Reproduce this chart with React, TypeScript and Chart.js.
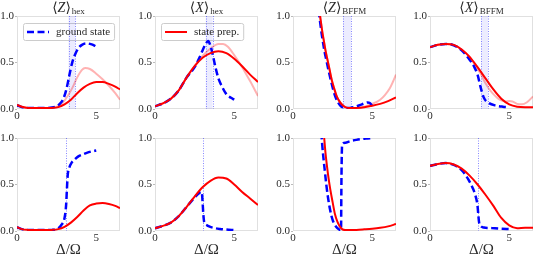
import React, { useEffect, useRef } from 'react';
import { Chart, registerables } from 'chart.js';

Chart.register(...registerables);

// ---------- axes / labels ----------
const xTickValues = [0, 5];
const yTickValues = [0, 0.5, 1];
const xMin = 0;
const xMax = 6.5;
const yMin = 0;
const yMax = 1;
const panelTitles: [string, string][] = [
  ['Z', 'hex'],
  ['X', 'hex'],
  ['Z', 'BFFM'],
  ['X', 'BFFM'],
];
const xAxisLabel = 'Δ/Ω';
const groundLabel = 'ground state';
const prepLabel = 'state prep.';
const altLabel = 'state prep. (faint)';

// ---------- top row: <Z>_hex ----------
const zHexTopGsX = [0, 0.3, 0.7, 1.2, 1.7, 2.2, 2.5, 2.7, 2.9, 3.1, 3.3, 3.5, 3.7, 3.9, 4.1, 4.35, 4.6, 4.8, 5.0];
const zHexTopGsY = [0.04, 0.02, 0.01, 0.01, 0.01, 0.015, 0.03, 0.055, 0.1, 0.2, 0.36, 0.51, 0.6, 0.66, 0.69, 0.705, 0.7, 0.69, 0.67];
const zHexTopSpX = [0, 0.3, 0.7, 1.2, 1.7, 2.2, 2.6, 3.0, 3.4, 3.8, 4.2, 4.6, 5.0, 5.4, 5.8, 6.2, 6.5];
const zHexTopSpY = [0.045, 0.025, 0.012, 0.01, 0.01, 0.012, 0.02, 0.05, 0.1, 0.17, 0.23, 0.27, 0.29, 0.29, 0.27, 0.24, 0.21];
const zHexTopAltX = [0, 0.3, 0.7, 1.2, 1.7, 2.2, 2.6, 2.9, 3.2, 3.5, 3.8, 4.1, 4.3, 4.6, 5.0, 5.4, 5.8, 6.2, 6.5];
const zHexTopAltY = [0.045, 0.025, 0.012, 0.01, 0.01, 0.012, 0.03, 0.07, 0.14, 0.23, 0.34, 0.42, 0.44, 0.43, 0.38, 0.32, 0.25, 0.17, 0.1];

// ---------- top row: <X>_hex ----------
const xHexTopSpX = [0, 0.5, 1, 1.5, 2, 2.5, 3, 3.5, 4, 4.5, 5, 5.5, 6, 6.5];
const xHexTopSpY = [0.03, 0.06, 0.11, 0.2, 0.34, 0.46, 0.55, 0.6, 0.62, 0.6, 0.54, 0.46, 0.37, 0.29];
const xHexTopGsX = [0, 0.5, 1, 1.5, 2, 2.5, 2.8, 3.0, 3.2, 3.35, 3.5, 3.65, 3.8, 4.0, 4.2, 4.5, 4.8, 5.0];
const xHexTopGsY = [0.03, 0.06, 0.11, 0.2, 0.34, 0.45, 0.55, 0.63, 0.7, 0.73, 0.68, 0.58, 0.46, 0.33, 0.25, 0.16, 0.12, 0.1];
const xHexTopAltX = [0, 0.5, 1, 1.5, 2, 2.5, 3, 3.5, 4, 4.3, 4.6, 5, 5.5, 6, 6.5];
const xHexTopAltY = [0.03, 0.06, 0.11, 0.2, 0.34, 0.46, 0.57, 0.65, 0.7, 0.7, 0.67, 0.58, 0.45, 0.3, 0.14];

// ---------- top row: <Z>_BFFM ----------
const zBffmTopSpX = [1.66, 1.75, 1.85, 1.95, 2.05, 2.15, 2.3, 2.45, 2.6, 2.75, 2.9, 3.1, 3.3, 3.6, 4.0, 4.5, 5.0, 5.5, 6.0, 6.5];
const zBffmTopSpY = [1.06, 0.95, 0.83, 0.73, 0.63, 0.55, 0.43, 0.31, 0.22, 0.14, 0.09, 0.045, 0.02, 0.01, 0.012, 0.02, 0.035, 0.055, 0.085, 0.125];
const zBffmTopGsX = [1.62, 1.7, 1.8, 1.9, 2.0, 2.1, 2.25, 2.4, 2.55, 2.7, 2.85, 3.0, 3.2, 3.5, 3.8, 4.2, 4.5, 4.7, 4.85, 5.0];
const zBffmTopGsY = [1.06, 0.95, 0.82, 0.71, 0.61, 0.53, 0.41, 0.3, 0.2, 0.12, 0.07, 0.035, 0.015, 0.01, 0.02, 0.04, 0.06, 0.07, 0.065, 0.03];
const zBffmTopAltX = [1.66, 1.75, 1.85, 1.95, 2.05, 2.15, 2.3, 2.45, 2.6, 2.75, 2.9, 3.1, 3.3, 3.6, 4.0, 4.5, 5.0, 5.5, 5.8, 6.1, 6.3, 6.5];
const zBffmTopAltY = [1.06, 0.95, 0.83, 0.73, 0.63, 0.55, 0.43, 0.31, 0.22, 0.14, 0.09, 0.045, 0.02, 0.01, 0.012, 0.025, 0.055, 0.1, 0.15, 0.22, 0.29, 0.37];

// ---------- top row: <X>_BFFM ----------
const xBffmTopSpX = [0, 0.5, 1, 1.5, 2, 2.5, 3, 3.5, 4, 4.5, 5, 5.5, 6, 6.5];
const xBffmTopSpY = [0.665, 0.69, 0.7, 0.69, 0.64, 0.56, 0.45, 0.33, 0.21, 0.11, 0.05, 0.025, 0.02, 0.02];
const xBffmTopGsX = [0, 0.5, 1, 1.5, 2, 2.5, 2.8, 3.0, 3.2, 3.4, 3.7, 4.2, 4.6, 5.0];
const xBffmTopGsY = [0.665, 0.69, 0.7, 0.685, 0.63, 0.53, 0.45, 0.37, 0.23, 0.12, 0.065, 0.035, 0.025, 0.02];
const xBffmTopAltX = [0, 0.5, 1, 1.5, 2, 2.5, 3, 3.2, 3.4, 3.6, 3.8, 4, 4.4, 4.8, 5, 5.2, 5.5, 5.8, 6.1, 6.5];
const xBffmTopAltY = [0.665, 0.69, 0.7, 0.69, 0.64, 0.56, 0.43, 0.38, 0.31, 0.25, 0.2, 0.16, 0.1, 0.08, 0.085, 0.08, 0.055, 0.05, 0.07, 0.135];

// ---------- bottom row: <Z>_hex ----------
const zHexBotGsX = [0, 0.3, 0.7, 1.2, 1.7, 2.2, 2.5, 2.8, 3.0, 3.1, 3.15, 3.2, 3.3, 3.45, 3.65, 3.85, 4.1, 4.4, 4.7, 5.0];
const zHexBotGsY = [0.04, 0.02, 0.01, 0.01, 0.01, 0.012, 0.02, 0.065, 0.14, 0.28, 0.45, 0.6, 0.68, 0.735, 0.77, 0.8, 0.82, 0.84, 0.855, 0.865];
const zHexBotSpX = [0, 0.3, 0.7, 1.2, 1.7, 2.2, 2.6, 3.0, 3.4, 3.8, 4.2, 4.6, 5.0, 5.4, 5.8, 6.2, 6.5];
const zHexBotSpY = [0.04, 0.02, 0.012, 0.01, 0.01, 0.012, 0.02, 0.045, 0.09, 0.15, 0.22, 0.275, 0.295, 0.3, 0.29, 0.27, 0.245];

// ---------- bottom row: <X>_hex ----------
const xHexBotSpX = [0, 0.5, 1, 1.5, 2, 2.5, 3, 3.5, 4, 4.5, 5, 5.5, 6, 6.5];
const xHexBotSpY = [0.03, 0.055, 0.09, 0.16, 0.26, 0.37, 0.47, 0.54, 0.575, 0.565, 0.5, 0.42, 0.35, 0.28];
const xHexBotGsX = [0, 0.5, 1, 1.5, 2, 2.5, 2.8, 2.95, 3.0, 3.05, 3.1, 3.25, 3.45, 3.8, 4.1, 4.5, 5.0];
const xHexBotGsY = [0.03, 0.055, 0.09, 0.16, 0.26, 0.36, 0.41, 0.42, 0.32, 0.18, 0.1, 0.065, 0.047, 0.03, 0.022, 0.015, 0.01];

// ---------- bottom row: <Z>_BFFM ----------
const zBffmBotSpX = [1.94, 2.05, 2.15, 2.25, 2.35, 2.5, 2.65, 2.8, 2.95, 3.1, 3.3, 3.6, 4.0, 4.5, 5.0, 5.5, 6.0, 6.5];
const zBffmBotSpY = [1.06, 0.84, 0.69, 0.56, 0.45, 0.31, 0.18, 0.1, 0.05, 0.02, 0.01, 0.01, 0.012, 0.018, 0.025, 0.035, 0.05, 0.075];
const zBffmBotGsX = [1.78, 1.9, 2.0, 2.1, 2.2, 2.35, 2.5, 2.65, 2.8, 2.95, 3.03, 3.06, 3.1, 3.3, 3.6, 4.0, 4.4, 4.7, 5.0];
const zBffmBotGsY = [1.06, 0.82, 0.66, 0.5, 0.37, 0.22, 0.12, 0.065, 0.03, 0.012, 0.01, 0.6, 0.93, 0.95, 0.965, 0.98, 0.99, 0.995, 1.0];

// ---------- bottom row: <X>_BFFM ----------
const xBffmBotSpX = [0, 0.5, 1, 1.5, 2, 2.5, 3, 3.5, 4, 4.5, 5, 5.5, 6, 6.5];
const xBffmBotSpY = [0.7, 0.72, 0.73, 0.715, 0.67, 0.595, 0.5, 0.39, 0.27, 0.14, 0.06, 0.03, 0.035, 0.035];
const xBffmBotGsX = [0, 0.5, 1, 1.5, 2, 2.4, 2.7, 2.85, 3.0, 3.05, 3.1, 3.2, 3.4, 3.7, 4.1, 4.5, 5.0];
const xBffmBotGsY = [0.7, 0.72, 0.73, 0.71, 0.655, 0.56, 0.46, 0.39, 0.27, 0.17, 0.09, 0.055, 0.037, 0.032, 0.03, 0.025, 0.02];

// ---------- markers ----------
const crossoverBands: [number, number][] = [
  [3.25, 3.67],
  [3.2, 3.63],
  [3.16, 3.67],
  [3.23, 3.66],
];
const bottomMarkers: (number | null)[] = [3.08, 3.05, null, 3.02];

// ---------- styling / layout (not data) ----------
const SERIF = "'Liberation Serif', 'DejaVu Serif', 'Times New Roman', serif";
const TEXT = '#2a2a2a';
const FRAME = '#e0e0e0';
const BAND_FILL = 'rgba(70,70,255,0.1)';
const BAND_EDGE = 'rgba(40,40,255,0.55)';
const PLOT_W = 103;
const PLOT_H = 93;
const Y_AXIS_W = 17;
const TOP_PAD = 16;
const RIGHT_PAD = 3;
const COL_LEFT = [17, 155, 293, 430];
const TOP_XAXIS_H = 13;
const BOT_XAXIS_H = 30;

type Kind = 'gs' | 'sp' | 'alt';
const STYLE: Record<Kind, any> = {
  gs: { borderColor: '#0000ff', borderWidth: 2.5, borderDash: [7, 3.5] },
  sp: { borderColor: '#ff0000', borderWidth: 2 },
  alt: { borderColor: 'rgba(255,0,0,0.3)', borderWidth: 2 },
};
const LABEL: Record<Kind, string> = { gs: groundLabel, sp: prepLabel, alt: altLabel };

type Series = { kind: Kind; xs: number[]; ys: number[] };
type Panel = {
  row: number;
  col: number;
  series: Series[];
  band?: [number, number];
  marker?: number | null;
  legend?: Kind;
};

const panels: Panel[] = [
  {
    row: 0, col: 0, band: crossoverBands[0], legend: 'gs',
    series: [
      { kind: 'sp', xs: zHexTopSpX, ys: zHexTopSpY },
      { kind: 'gs', xs: zHexTopGsX, ys: zHexTopGsY },
      { kind: 'alt', xs: zHexTopAltX, ys: zHexTopAltY },
    ],
  },
  {
    row: 0, col: 1, band: crossoverBands[1], legend: 'sp',
    series: [
      { kind: 'sp', xs: xHexTopSpX, ys: xHexTopSpY },
      { kind: 'gs', xs: xHexTopGsX, ys: xHexTopGsY },
      { kind: 'alt', xs: xHexTopAltX, ys: xHexTopAltY },
    ],
  },
  {
    row: 0, col: 2, band: crossoverBands[2],
    series: [
      { kind: 'sp', xs: zBffmTopSpX, ys: zBffmTopSpY },
      { kind: 'gs', xs: zBffmTopGsX, ys: zBffmTopGsY },
      { kind: 'alt', xs: zBffmTopAltX, ys: zBffmTopAltY },
    ],
  },
  {
    row: 0, col: 3, band: crossoverBands[3],
    series: [
      { kind: 'sp', xs: xBffmTopSpX, ys: xBffmTopSpY },
      { kind: 'gs', xs: xBffmTopGsX, ys: xBffmTopGsY },
      { kind: 'alt', xs: xBffmTopAltX, ys: xBffmTopAltY },
    ],
  },
  {
    row: 1, col: 0, marker: bottomMarkers[0],
    series: [
      { kind: 'sp', xs: zHexBotSpX, ys: zHexBotSpY },
      { kind: 'gs', xs: zHexBotGsX, ys: zHexBotGsY },
    ],
  },
  {
    row: 1, col: 1, marker: bottomMarkers[1],
    series: [
      { kind: 'sp', xs: xHexBotSpX, ys: xHexBotSpY },
      { kind: 'gs', xs: xHexBotGsX, ys: xHexBotGsY },
    ],
  },
  {
    row: 1, col: 2, marker: bottomMarkers[2],
    series: [
      { kind: 'sp', xs: zBffmBotSpX, ys: zBffmBotSpY },
      { kind: 'gs', xs: zBffmBotGsX, ys: zBffmBotGsY },
    ],
  },
  {
    row: 1, col: 3, marker: bottomMarkers[3],
    series: [
      { kind: 'sp', xs: xBffmBotSpX, ys: xBffmBotSpY },
      { kind: 'gs', xs: xBffmBotGsX, ys: xBffmBotGsY },
    ],
  },
];

function dottedLine(ctx: CanvasRenderingContext2D, px: number, top: number, bottom: number) {
  ctx.save();
  ctx.strokeStyle = BAND_EDGE;
  ctx.lineWidth = 1;
  ctx.setLineDash([1, 1.5]);
  ctx.beginPath();
  const x = Math.round(px) + 0.5;
  ctx.moveTo(x, top);
  ctx.lineTo(x, bottom);
  ctx.stroke();
  ctx.restore();
}

function makeDecor(p: Panel) {
  return {
    id: 'decor',
    beforeDatasetsDraw(chart: any) {
      const { ctx, chartArea: ca, scales } = chart;
      const xs = scales.x;
      ctx.save();
      ctx.strokeStyle = FRAME;
      ctx.lineWidth = 1;
      ctx.strokeRect(ca.left + 0.5, ca.top + 0.5, ca.right - ca.left - 1, ca.bottom - ca.top - 1);
      ctx.restore();
      if (p.legend) {
        const label = LABEL[p.legend];
        ctx.save();
        ctx.font = `11px ${SERIF}`;
        const tw = ctx.measureText(label).width;
        const bx = ca.left + 6;
        const by = ca.top + 7;
        const bh = 17;
        const bw = 4 + 22 + 7 + tw + 4;
        ctx.beginPath();
        if ((ctx as any).roundRect) (ctx as any).roundRect(bx + 0.5, by + 0.5, bw, bh, 2);
        else ctx.rect(bx + 0.5, by + 0.5, bw, bh);
        ctx.fillStyle = '#ffffff';
        ctx.fill();
        ctx.strokeStyle = '#cccccc';
        ctx.lineWidth = 1;
        ctx.stroke();
        ctx.restore();
      }
      if (p.band) {
        const a = xs.getPixelForValue(p.band[0]);
        const b = xs.getPixelForValue(p.band[1]);
        ctx.save();
        ctx.fillStyle = BAND_FILL;
        ctx.fillRect(a, ca.top, b - a, ca.bottom - ca.top);
        ctx.restore();
        dottedLine(ctx, a, ca.top, ca.bottom);
        dottedLine(ctx, b, ca.top, ca.bottom);
      }
      if (p.marker != null) {
        dottedLine(ctx, xs.getPixelForValue(p.marker), ca.top, ca.bottom);
      }
    },
    afterDatasetsDraw(chart: any) {
      if (!p.legend) return;
      const { ctx, chartArea: ca } = chart;
      const label = LABEL[p.legend];
      const st = STYLE[p.legend];
      ctx.save();
      ctx.font = `11px ${SERIF}`;
      const bx = ca.left + 6;
      const by = ca.top + 7;
      const bh = 17;
      const ly = by + bh / 2 + 0.5;
      ctx.beginPath();
      ctx.strokeStyle = st.borderColor;
      ctx.lineWidth = st.borderWidth;
      ctx.setLineDash(st.borderDash || []);
      ctx.moveTo(bx + 4, ly);
      ctx.lineTo(bx + 26, ly);
      ctx.stroke();
      ctx.setLineDash([]);
      ctx.fillStyle = TEXT;
      ctx.textBaseline = 'middle';
      ctx.textAlign = 'left';
      ctx.fillText(label, bx + 33, ly + 0.5);
      ctx.restore();
    },
    afterDraw(chart: any) {
      if (p.row !== 0) return;
      const { ctx, chartArea: ca } = chart;
      const [main, sub] = panelTitles[p.col];
      const fMain = `14px ${SERIF}`;
      const fIt = `italic 14px ${SERIF}`;
      const fSub = `9px ${SERIF}`;
      ctx.save();
      ctx.fillStyle = TEXT;
      ctx.textBaseline = 'alphabetic';
      ctx.textAlign = 'left';
      ctx.font = fMain;
      const wl = ctx.measureText('⟨').width;
      const wr = ctx.measureText('⟩').width;
      ctx.font = fIt;
      const wz = ctx.measureText(main).width;
      ctx.font = fSub;
      const ws = ctx.measureText(sub).width;
      const total = wl + wz + wr + 1 + ws;
      let x = (ca.left + ca.right) / 2 - total / 2;
      const base = 12;
      ctx.font = fMain;
      ctx.fillText('⟨', x, base);
      x += wl;
      ctx.font = fIt;
      ctx.fillText(main, x, base);
      x += wz;
      ctx.font = fMain;
      ctx.fillText('⟩', x, base);
      x += wr + 1;
      ctx.font = fSub;
      ctx.fillText(sub, x, base + 2);
      ctx.restore();
    },
  };
}

function buildConfig(p: Panel): any {
  const bottom = p.row === 1;
  return {
    type: 'line',
    data: {
      datasets: p.series.map((s) => ({
        label: LABEL[s.kind],
        data: s.xs.map((x, i) => ({ x, y: s.ys[i] })),
        ...STYLE[s.kind],
        pointRadius: 0,
        pointHoverRadius: 0,
        fill: false,
        cubicInterpolationMode: 'monotone',
      })),
    },
    options: {
      animation: false,
      responsive: false,
      maintainAspectRatio: false,
      events: [],
      layout: { padding: { top: TOP_PAD, right: RIGHT_PAD, left: 0, bottom: 0 } },
      plugins: {
        legend: { display: false },
        tooltip: { enabled: false },
        title: { display: false },
      },
      scales: {
        x: {
          type: 'linear',
          min: xMin,
          max: xMax,
          afterBuildTicks: (s: any) => {
            s.ticks = xTickValues.map((v) => ({ value: v }));
          },
          afterFit: (s: any) => {
            s.height = bottom ? BOT_XAXIS_H : TOP_XAXIS_H;
          },
          ticks: {
            color: TEXT,
            font: { family: SERIF, size: 11 },
            padding: 1,
            maxRotation: 0,
            autoSkip: false,
            callback: (v: any) => String(v),
          },
          grid: { display: false, drawTicks: false },
          border: { display: false },
          title: bottom
            ? {
                display: true,
                text: xAxisLabel,
                color: TEXT,
                font: { family: SERIF, size: 15 },
                padding: { top: 0, bottom: 2 },
              }
            : { display: false },
        },
        y: {
          type: 'linear',
          min: yMin,
          max: yMax,
          afterBuildTicks: (s: any) => {
            s.ticks = yTickValues.map((v) => ({ value: v }));
          },
          afterFit: (s: any) => {
            s.width = Y_AXIS_W;
          },
          ticks: {
            color: TEXT,
            font: { family: SERIF, size: 11 },
            padding: 1,
            callback: (v: any) => Number(v).toFixed(1),
          },
          grid: { drawOnChartArea: false, drawTicks: true, tickLength: 2, color: '#bbbbbb' },
          border: { display: false },
        },
      },
    },
    plugins: [makeDecor(p)],
  };
}

function PanelChart({ panel }: { panel: Panel }) {
  const ref = useRef<HTMLCanvasElement | null>(null);
  useEffect(() => {
    if (!ref.current) return;
    const chart = new Chart(ref.current, buildConfig(panel));
    return () => chart.destroy();
  }, [panel]);
  const bottom = panel.row === 1;
  const w = Y_AXIS_W + PLOT_W + RIGHT_PAD;
  const h = TOP_PAD + PLOT_H + (bottom ? BOT_XAXIS_H : TOP_XAXIS_H);
  const top = bottom ? TOP_PAD + PLOT_H + TOP_XAXIS_H : 0;
  return (
    <canvas
      ref={ref}
      width={w}
      height={h}
      style={{ position: 'absolute', left: COL_LEFT[panel.col] - Y_AXIS_W, top, width: w, height: h }}
    />
  );
}

export default function App() {
  return (
    <div
      style={{
        position: 'absolute',
        left: 0,
        top: 0,
        width: 535,
        height: 261,
        overflow: 'hidden',
        background: '#ffffff',
      }}
    >
      {panels.map((p, i) => (
        <PanelChart key={i} panel={p} />
      ))}
    </div>
  );
}
